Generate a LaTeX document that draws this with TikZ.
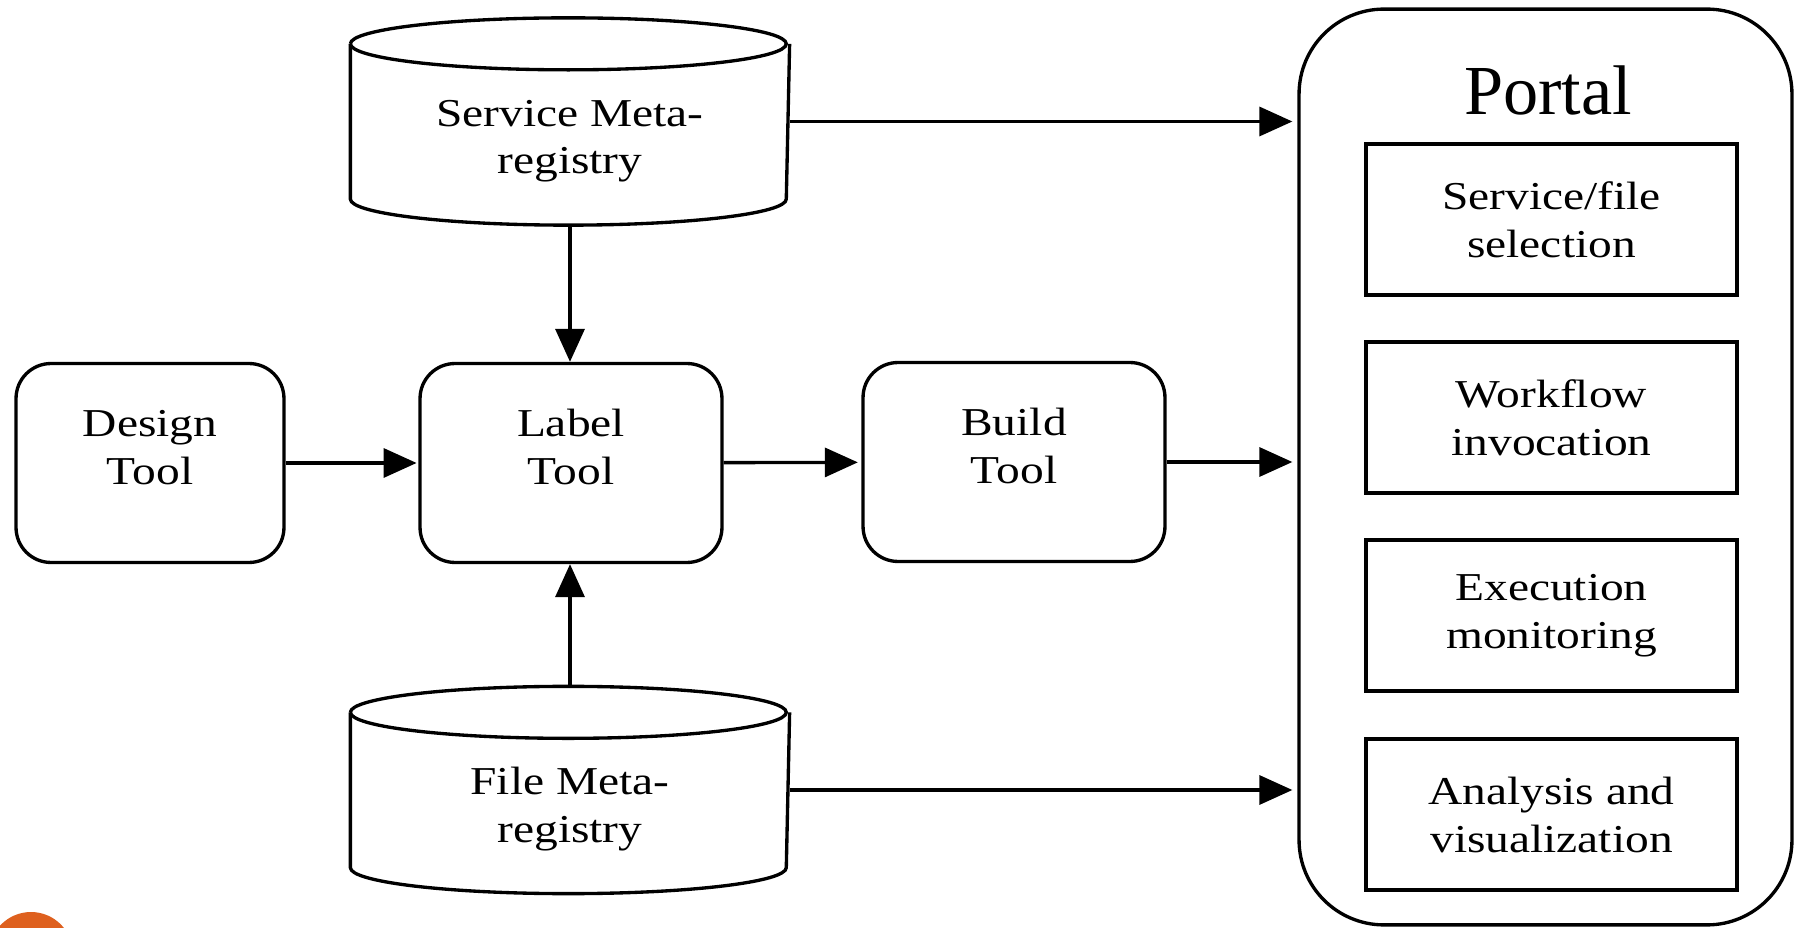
\documentclass[tikz,border=0pt]{standalone}
\usepackage{fontspec}
\setmainfont{Liberation Serif}[FakeStretch=1.2]
\newfontfamily\portalfont{Liberation Serif}
\usetikzlibrary{arrows.meta}
\usetikzlibrary{positioning}
\definecolor{dotorange}{RGB}{222,96,30}

\begin{document}
\begin{tikzpicture}[x=0.02cm,y=-0.02cm,line width=1.9pt,
    >={Triangle[length=0.66cm,width=0.58cm]},
    txt/.style={align=center,font=\fontsize{22.5}{27.3}\selectfont},
    tool/.style={txt,draw,rounded corners=0.7cm,minimum width=6.04cm,minimum height=3.98cm,
        text height=1.4cm,text depth=0.55cm},
    store/.style={txt,minimum width=8.72cm,minimum height=4.08cm,text height=2.5cm,text depth=0.4cm},
    part/.style={txt,draw,minimum width=7.42cm,minimum height=3.02cm}]
    \useasboundingbox (0,0) rectangle (1795,928);
    \begin{scope}
        \clip (0,0) rectangle (1795,928);
        \fill[dotorange] (31,954) circle[radius=0.84cm];
    \end{scope}
    % tools
    \node[tool,minimum width=5.36cm] (design) at (150,463) {Design\\Tool};
    \node[tool] (label) at (571,463) {Label\\Tool};
    \node[tool] (build) at (1014,462) {Build\\Tool};
    % registries
    \node[store] (sreg) at (570,121.5) {Service Meta-\\registry};
    \node[store] (freg) at (570,790) {File Meta-\\registry};
    \foreach \c in {sreg,freg}{
        \draw ([yshift=-0.52cm]\c.north west) arc[start angle=180,end angle=-180,x radius=4.36cm,y radius=0.52cm];
        \draw ([yshift=-0.52cm]\c.north west) -- ([yshift=0.52cm]\c.south west)
            arc[start angle=180,end angle=360,x radius=4.36cm,y radius=0.52cm] -- ([yshift=-0.52cm]\c.north east);
    }
    % portal
    \node[draw,rounded corners=1.7cm,minimum width=9.86cm,minimum height=18.32cm] (portal) at (1545.5,467) {};
    \node[font=\portalfont\fontsize{40}{44}\selectfont] (ptitle) at (1548,90) {Portal};
    \foreach \n/\y/\t in {sel/219.5/{Service/file\\selection},wf/417.5/{Workflow\\invocation},
        mon/615.5/{Execution\\monitoring},ana/814.5/{Analysis and\\visualization}}
        \node[part] (\n) at (1551.5,\y) {\t};
    % connectors
    \draw[->] (sreg.south) -- (sreg.south |- label.north);
    \draw[->] (freg.north) -- (freg.north |- label.south);
    \draw[->,shorten >=1pt] (design) -- (label);
    \draw[->,shorten >=2pt] (label) -- (build);
    \draw[->,shorten >=0.1cm] (sreg.east) -- (sreg.east -| portal.west);
    \draw[->,shorten >=0.1cm] (build.east) -- (build.east -| portal.west);
    \draw[->,shorten >=0.1cm] (freg.east) -- (freg.east -| portal.west);
\end{tikzpicture}
\end{document}
